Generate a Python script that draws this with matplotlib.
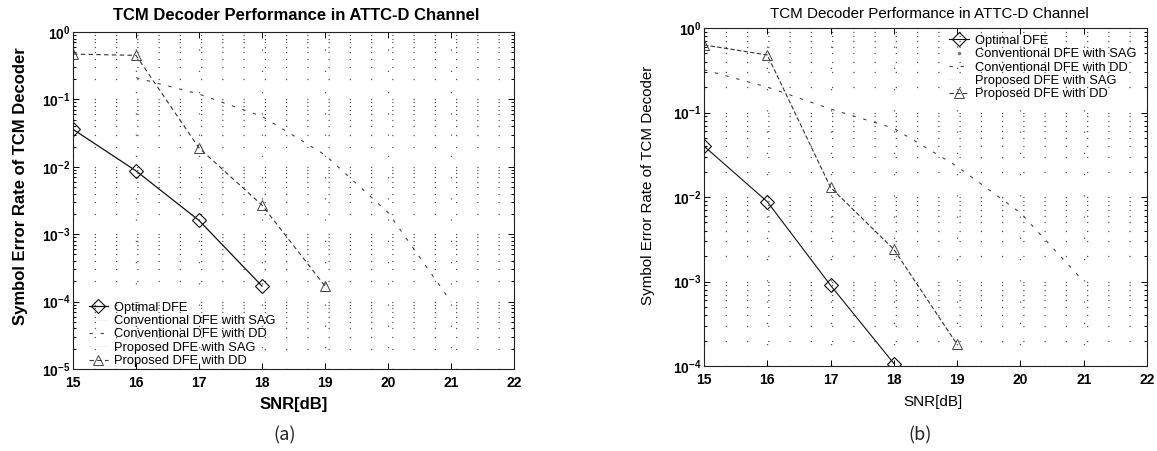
import math
import matplotlib
matplotlib.use("Agg")
import matplotlib.pyplot as plt
from matplotlib.ticker import FixedLocator, FuncFormatter, LogLocator, NullFormatter

plt.rcParams['font.family'] = ['Liberation Sans', 'DejaVu Sans']
plt.rcParams['mathtext.fontset'] = 'custom'
plt.rcParams['mathtext.rm'] = 'Liberation Sans'
plt.rcParams['mathtext.bf'] = 'Liberation Sans:bold'
plt.rcParams['mathtext.it'] = 'Liberation Sans:italic'

# ---------------- data ----------------
title = "TCM Decoder Performance in ATTC-D Channel"
xlabel = "SNR[dB]"
ylabel = "Symbol Error Rate of TCM Decoder"
legend_labels = ["Optimal DFE", "Conventional DFE with SAG", "Conventional DFE with DD",
                 "Proposed DFE with SAG", "Proposed DFE with DD"]
x_ticks = [15, 16, 17, 18, 19, 20, 21, 22]

# panel (a)
a_opt_snr = [15, 16, 17, 18]
a_opt_ser = [3.6e-2, 8.7e-3, 1.6e-3, 1.7e-4]
a_cdd_snr = [16, 17, 18, 19, 20, 21]
a_cdd_ser = [2.1e-1, 1.2e-1, 5.6e-2, 1.5e-2, 2.1e-3, 1.0e-4]
a_pdd_snr = [15, 16, 17, 18, 19]
a_pdd_ser = [4.7e-1, 4.5e-1, 1.9e-2, 2.7e-3, 1.7e-4]
a_yexp = [0, -1, -2, -3, -4, -5]

# panel (b)
b_opt_snr = [15, 16, 17, 18]
b_opt_ser = [4.0e-2, 8.8e-3, 9.0e-4, 1.07e-4]
b_cdd_snr = [15, 16, 17, 18, 19, 20, 21]
b_cdd_ser = [3.2e-1, 2.0e-1, 1.1e-1, 6.5e-2, 2.3e-2, 6.5e-3, 1.0e-3]
b_pdd_snr = [15, 16, 17, 18, 19]
b_pdd_ser = [6.3e-1, 4.8e-1, 1.3e-2, 2.4e-3, 1.8e-4]
b_yexp = [0, -1, -2, -3, -4]

W, H = 1157, 451
fig = plt.figure(figsize=(W / 100, H / 100), dpi=100)

def frac(l, t, r, b):
    return [l / W, 1 - b / H, (r - l) / W, (b - t) / H]

axA = fig.add_axes(frac(73, 32, 514, 369))
axB = fig.add_axes(frac(704, 28, 1147, 366))

def style_axis(ax, yexp, bold):
    ax.set_yscale('log')
    ax.set_xlim(15, 22)
    ax.set_ylim(10.0 ** min(yexp), 10.0 ** max(yexp))
    ax.xaxis.set_major_locator(FixedLocator(x_ticks))
    ax.set_xticklabels([str(v) for v in x_ticks])
    ax.yaxis.set_major_locator(FixedLocator([10.0 ** e for e in yexp]))
    ax.yaxis.set_minor_locator(LogLocator(base=10, subs=range(2, 10), numticks=20))
    ax.yaxis.set_minor_formatter(NullFormatter())
    cmd = r'\mathbf' if bold else r'\mathrm'
    ax.yaxis.set_major_formatter(FuncFormatter(
        lambda v, p: '$%s{10^{%d}}$' % (cmd, round(math.log10(v)))))
    ax.tick_params(which='both', direction='in', top=True, right=True, width=0.7,
                   labelsize=10)
    ax.tick_params(axis='x', pad=5)
    ax.tick_params(axis='y', pad=2)
    ax.tick_params(which='major', length=4)
    ax.tick_params(which='minor', length=2)
    for lab in ax.get_xticklabels():
        lab.set_fontweight('bold')
    for s in ax.spines.values():
        s.set_linewidth(0.8)
        s.set_color('#222222')
    grid_kw = dict(ls=(0, (1, 16)), color='#555555', lw=0.9)
    ax.grid(True, which='major', axis='both', **grid_kw)
    ax.grid(True, which='minor', axis='y', **grid_kw)

style_axis(axA, a_yexp, True)
style_axis(axB, b_yexp, True)

# ---- panel (a) curves
axA.plot(a_opt_snr, a_opt_ser, color='#111111', lw=0.9, marker='D', ms=7,
         mfc='none', mec='#111111', mew=0.8, label=legend_labels[0])
axA.plot([], [], color='#dddddd', lw=0.6, ls=':', label=legend_labels[1])
axA.plot(a_cdd_snr, a_cdd_ser, color='#444444', lw=0.8, ls=(0, (3, 7)),
         label=legend_labels[2])
axA.plot([], [], color='#dddddd', lw=0.6, ls=':', label=legend_labels[3])
axA.plot(a_pdd_snr, a_pdd_ser, color='#333333', lw=0.8, ls=(0, (4, 3)), marker='^',
         ms=7, mfc='none', mec='#444444', mew=0.7, label=legend_labels[4])

axA.legend(loc='lower left', bbox_to_anchor=(0.012, -0.025), fontsize=9.3,
           frameon=False, labelspacing=0.1, handlelength=1.5,
           handletextpad=0.5, borderpad=0.3)
for t in axA.get_yticklabels():
    t.set_fontweight('bold')

fig.text(296 / W, 1 - 15 / H, title, ha='center', va='center', fontsize=12,
         fontweight='bold')
axA.set_xlabel(xlabel, fontsize=12, fontweight='bold')
axA.set_ylabel(ylabel, fontsize=12, fontweight='bold')
axA.xaxis.set_label_coords(0.50, -0.083)
axA.yaxis.set_label_coords(-0.102, 0.543)

# ---- panel (b) curves
axB.plot(b_opt_snr, b_opt_ser, color='#111111', lw=0.8, marker='D', ms=7,
         mfc='none', mec='#111111', mew=0.8, label=legend_labels[0])
axB.plot([], [], color='#777777', lw=0, marker='.', ms=3, label=legend_labels[1])
axB.plot(b_cdd_snr, b_cdd_ser, color='#444444', lw=0.8, ls=(0, (3, 7)),
         label=legend_labels[2])
axB.plot([], [], color='#dddddd', lw=0.6, ls=':', label=legend_labels[3])
axB.plot(b_pdd_snr, b_pdd_ser, color='#333333', lw=0.8, ls=(0, (4, 2)), marker='^',
         ms=7, mfc='none', mec='#444444', mew=0.7, label=legend_labels[4])

axB.legend(loc='upper right', bbox_to_anchor=(1.0, 1.01), fontsize=9.3,
           frameon=False, labelspacing=0.1, handlelength=1.5,
           handletextpad=0.5, borderpad=0.3)

fig.text(929 / W, 1 - 14 / H, title, ha='center', va='center', fontsize=10.9)
axB.set_xlabel(xlabel, fontsize=11)
axB.set_ylabel(ylabel, fontsize=10.9)
axB.xaxis.set_label_coords(0.516, -0.086)
axB.yaxis.set_label_coords(-0.11, 0.535)

fig.text(285 / W, 1 - 435 / H, "(a)", ha='center', va='center', fontsize=13,
         family=['Noto Sans CJK KR', 'DejaVu Sans'], color='#222222')
fig.text(920 / W, 1 - 435 / H, "(b)", ha='center', va='center', fontsize=13,
         family=['Noto Sans CJK KR', 'DejaVu Sans'], color='#222222')

fig.savefig("out.png", dpi=100)
